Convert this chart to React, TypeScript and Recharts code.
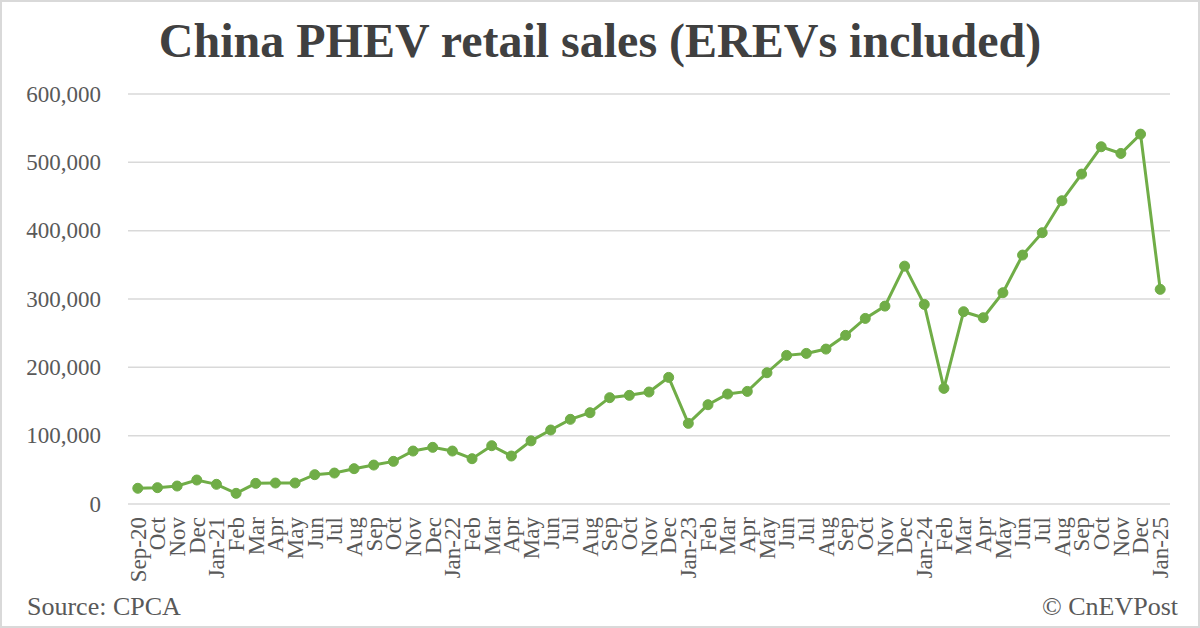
import React from "react";
import { LineChart, Line, XAxis, YAxis, CartesianGrid } from "recharts";

const months: string[] = [
  "Sep-20", "Oct", "Nov", "Dec",
  "Jan-21", "Feb", "Mar", "Apr", "May", "Jun", "Jul", "Aug", "Sep", "Oct", "Nov", "Dec",
  "Jan-22", "Feb", "Mar", "Apr", "May", "Jun", "Jul", "Aug", "Sep", "Oct", "Nov", "Dec",
  "Jan-23", "Feb", "Mar", "Apr", "May", "Jun", "Jul", "Aug", "Sep", "Oct", "Nov", "Dec",
  "Jan-24", "Feb", "Mar", "Apr", "May", "Jun", "Jul", "Aug", "Sep", "Oct", "Nov", "Dec",
  "Jan-25",
];

const sales: number[] = [
  23000, 23900, 26300, 35100,
  28800, 15600, 30200, 30700, 30700, 42900, 45300, 51700, 57000, 62400, 77500, 82900,
  77500, 66300, 85300, 70200, 92400, 108300, 123900, 133600, 155600, 159000, 163900, 185300,
  118000, 145300, 160900, 164800, 192100, 217500, 220400, 226700, 246800, 271600, 289600, 348100,
  292100, 169200, 281400, 272600, 309200, 364300, 397000, 443800, 482800, 522800, 513000, 541300,
  314100,
];

const yTicks: number[] = [0, 100000, 200000, 300000, 400000, 500000, 600000];

const data = months.map((m, i) => ({ key: i, month: m, sales: sales[i] }));

const SERIF = "'Liberation Serif', 'Times New Roman', serif";

const XTick = (props: any) => {
  const { x, payload } = props;
  return (
    <text
      x={x}
      y={517}
      transform={`rotate(-90, ${x}, 517)`}
      textAnchor="end"
      dy="0.34em"
      fontFamily={SERIF}
      fontSize={23}
      fill="#595959"
    >
      {months[payload.value]}
    </text>
  );
};

const YTick = (props: any) => {
  const { y, payload } = props;
  return (
    <text
      x={101}
      y={y}
      textAnchor="end"
      dy="0.34em"
      fontFamily={SERIF}
      fontSize={23}
      fill="#595959"
    >
      {Number(payload.value).toLocaleString("en-US")}
    </text>
  );
};

export default function App() {
  return (
    <div
      style={{
        position: "fixed",
        left: 0,
        top: 0,
        width: 1200,
        height: 628,
        background: "#ffffff",
        overflow: "hidden",
      }}
    >
      <LineChart
        width={1200}
        height={628}
        data={data}
        margin={{ top: 94, right: 30, bottom: 24, left: 0 }}
      >
        <CartesianGrid vertical={false} stroke="#d9d9d9" strokeWidth={1.5} />
        <XAxis
          dataKey="key"
          type="category"
          scale="point"
          padding={{ left: 9.8, right: 9.8 }}
          interval={0}
          axisLine={false}
          tickLine={false}
          tick={<XTick />}
          height={100}
        />
        <YAxis
          domain={[0, 600000]}
          ticks={yTicks}
          axisLine={false}
          tickLine={false}
          tick={<YTick />}
          width={128}
        />
        <Line
          type="linear"
          dataKey="sales"
          stroke="#70ad47"
          strokeWidth={3}
          dot={{ r: 5, fill: "#70ad47", stroke: "#70ad47", strokeWidth: 1 }}
          activeDot={false}
          isAnimationActive={false}
        />
      </LineChart>
      <div
        style={{
          position: "absolute",
          left: 0,
          top: 13,
          width: 1200,
          textAlign: "center",
          fontFamily: SERIF,
          fontWeight: "bold",
          fontSize: 48,
          lineHeight: "56px",
          color: "#404040",
        }}
      >
        China PHEV retail sales (EREVs included)
      </div>
      <div
        style={{
          position: "absolute",
          left: 27,
          top: 592,
          fontFamily: SERIF,
          fontSize: 26,
          lineHeight: "30px",
          color: "#595959",
        }}
      >
        Source: CPCA
      </div>
      <div
        style={{
          position: "absolute",
          right: 22,
          top: 592,
          fontFamily: SERIF,
          fontSize: 26,
          lineHeight: "30px",
          color: "#595959",
        }}
      >
        © CnEVPost
      </div>
      <div
        style={{
          position: "absolute",
          left: 0,
          top: 0,
          width: 1200,
          height: 628,
          boxSizing: "border-box",
          border: "2px solid #d9d9d9",
          pointerEvents: "none",
        }}
      />
    </div>
  );
}
